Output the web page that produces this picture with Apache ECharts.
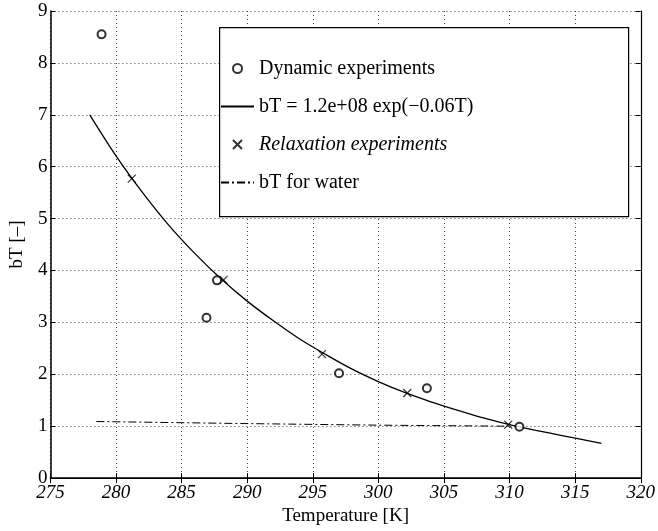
<!DOCTYPE html>
<html>
<head>
<meta charset="utf-8">
<script src="https://cdn.jsdelivr.net/npm/echarts@6/dist/echarts.min.js"></script>
<style>
  html, body { margin: 0; padding: 0; background: #fff; }
  #main { width: 658px; height: 531px; }
</style>
</head>
<body>
<div id="main"></div>
<script>
  // values: [temperature K, bT]
  var dynamicPts = [[278.9, 8.55], [286.9, 3.09], [287.7, 3.81], [297.0, 2.02], [303.7, 1.73], [310.75, 0.99]];
  var relaxPts = [[281.2, 5.77], [288.2, 3.82], [295.7, 2.39], [302.2, 1.64], [309.9, 1.03]];
  var fitT = [278, 280, 282, 284, 286, 288, 290, 292, 294, 296, 298, 300, 302, 304, 306, 308, 310, 312, 314, 317];
  var fitBT = [7.0, 6.21, 5.51, 4.88, 4.33, 3.84, 3.41, 3.03, 2.68, 2.38, 2.1, 1.86, 1.65, 1.47, 1.31, 1.16, 1.03, 0.92, 0.82, 0.67];
  var waterT = [278.5, 290, 300, 310];
  var waterBT = [1.09, 1.05, 1.02, 1.0];

  var names = ['Dynamic experiments', 'bT = 1.2e+08 exp(\u22120.06T)', 'Relaxation experiments', 'bT for water'];

  var fitData = fitT.map(function (t, i) { return [t, fitBT[i]]; });
  var waterData = waterT.map(function (t, i) { return [t, waterBT[i]]; });

  var serif = 'Liberation Serif';
  var crossPath = 'path://M0,0L10,10M10,0L0,10';

  var chart = echarts.init(document.getElementById('main'));

  var option = {
    animation: false,
    backgroundColor: '#fff',
    textStyle: { fontFamily: serif, color: '#000' },
    grid: { left: 46, right: 15, top: 11, bottom: 48 },
    xAxis: [{
      type: 'value',
      min: 275, max: 320, interval: 5,
      name: 'Temperature [K]',
      nameLocation: 'middle',
      nameGap: 26,
      nameTextStyle: { fontFamily: serif, fontSize: 19, color: '#000', verticalAlign: 'top' },
      axisLine: { lineStyle: { color: '#000', width: 1.5 } },
      axisTick: { inside: true, length: 5, lineStyle: { color: '#000' } },
      axisLabel: { margin: 5, fontFamily: serif, fontSize: 19, fontStyle: 'italic', color: '#000' },
      splitLine: { show: true, lineStyle: { color: '#444', type: [1, 3], width: 1 } }
    }, {
      type: 'value',
      position: 'top',
      min: 275, max: 320, interval: 5,
      axisLine: { lineStyle: { color: '#000', width: 1.2 } },
      axisTick: { inside: true, length: 5, lineStyle: { color: '#000' } },
      axisLabel: { show: false },
      splitLine: { show: false }
    }],
    yAxis: [{
      type: 'value',
      min: 0, max: 9, interval: 1,
      name: 'bT [\u2013]',
      nameLocation: 'middle',
      nameGap: 16,
      nameTextStyle: { fontFamily: serif, fontSize: 19, color: '#000' },
      axisLine: { show: true, lineStyle: { color: '#000', width: 1.5 } },
      axisTick: { show: true, inside: true, length: 5, lineStyle: { color: '#000' } },
      axisLabel: { margin: 3, fontFamily: serif, fontSize: 19, color: '#000' },
      splitLine: { show: true, lineStyle: { color: '#444', type: [1, 3], width: 1 } }
    }, {
      type: 'value',
      position: 'right',
      min: 0, max: 9, interval: 1,
      axisLine: { show: true, lineStyle: { color: '#000', width: 1.2 } },
      axisTick: { show: true, inside: true, length: 5, lineStyle: { color: '#000' } },
      axisLabel: { show: false },
      splitLine: { show: false }
    }],
    graphic: [{
      type: 'rect',
      left: 219, top: 27, z: 3,
      shape: { width: 409, height: 189 },
      style: { fill: '#fff', stroke: '#000', lineWidth: 1.2 }
    }],
    legend: {
      orient: 'vertical',
      left: 220, top: 58,
      padding: 0,
      itemWidth: 33, itemHeight: 9,
      itemGap: 17,
      selectedMode: false,
      textStyle: { fontFamily: serif, fontSize: 20, color: '#000', lineHeight: 21 },
      data: [
        { name: names[0] },
        { name: names[1], itemStyle: { opacity: 0 } },
        { name: names[2], textStyle: { fontStyle: 'italic' } },
        { name: names[3], itemStyle: { opacity: 0 } }
      ]
    },
    series: [{
      name: names[0],
      type: 'scatter',
      symbol: 'emptyCircle',
      symbolSize: 8,
      itemStyle: { color: '#000', borderColor: '#000', borderWidth: 1 },
      data: dynamicPts,
      z: 4
    }, {
      name: names[1],
      type: 'line',
      smooth: 0.3,
      showSymbol: false,
      symbol: 'none',
      lineStyle: { color: '#000', width: 1.3 },
      itemStyle: { color: '#000' },
      data: fitData
    }, {
      name: names[2],
      type: 'scatter',
      symbol: crossPath,
      symbolSize: 8,
      itemStyle: { color: '#000', borderColor: '#000', borderWidth: 1.2 },
      data: relaxPts,
      z: 4
    }, {
      name: names[3],
      type: 'line',
      showSymbol: false,
      symbol: 'none',
      lineStyle: { color: '#000', width: 1, type: [8, 3, 2, 3] },
      itemStyle: { color: '#000' },
      data: waterData
    }]
  };

  chart.setOption(option);
</script>
</body>
</html>
